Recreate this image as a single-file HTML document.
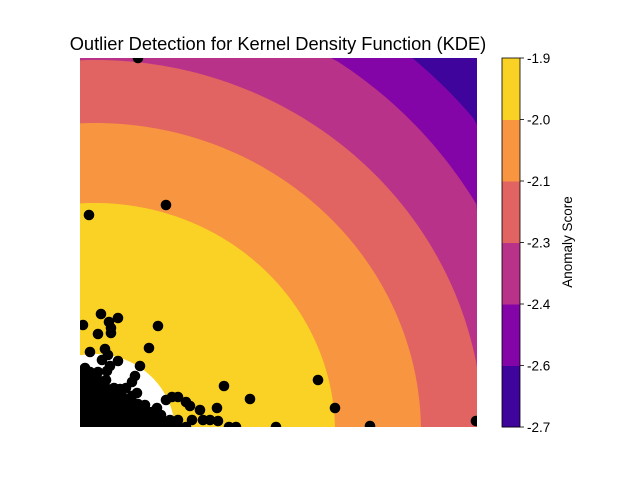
<!DOCTYPE html>
<html><head><meta charset="utf-8"><style>
html,body{margin:0;padding:0;background:#fff;width:640px;height:480px;overflow:hidden;font-family:"Liberation Sans","DejaVu Sans",sans-serif;}
svg{display:block;overflow:hidden;}
</style></head><body>
<svg id="chart" width="640" height="480" viewBox="0 0 640 480" xmlns="http://www.w3.org/2000/svg">
<defs><clipPath id="clip"><rect x="80" y="58" width="397" height="369"/></clipPath></defs>
<text x="278" y="50" text-anchor="middle" font-size="18.3" fill="#000">Outlier Detection for Kernel Density Function (KDE)</text>
<g id="contours" clip-path="url(#clip)"></g>
<g id="points" clip-path="url(#clip)"></g>
<g id="cbar"></g>
<text transform="translate(572,242) rotate(-90)" text-anchor="middle" font-size="13.5" fill="#000">Anomaly Score</text>
</svg>
<script>
// Contour bands (outer to inner): boundary radii in data units, colors
const bandLevels = [-2.7, -2.6, -2.4, -2.3, -2.1, -2.0, -1.9];
const bandColors = ["#3e049c", "#8405a7", "#b83289", "#e16462", "#f89540", "#fad225"];
const bandRadiiX = [0, 494, 445, 388, 326, 240, 80];
const bandRadiiY = [0, 488, 442, 372, 309, 229, 78];
const centerData = [15, -5];
// Scatter points (data units: x 0..397, y 0..369)
const ptsX = [58,86,9,3,21,38,29,31,78,18,31,69,10,25,28,38,22,30,60,52,40,5,15,27,14,55,57,52,37,46,65,57,144,170,238,255,290,196,156,149,110,120,123,137,98,92,106,86,98,396,77,68,81,130,138,112,
2,10,18, 2,10,18,26, 2,10,18,26,34, 2,10,18,26,34,42, 2,10,18,26,34,42,50,58, 2,10,18,26,34,42,50,58,66,72, 2,10,18,26,34,42,50,58,66,74,82,90, 2,10,18,26,34,42,50,58,66,74,82,90,98,106,
6,14, 6,14,22, 6,14,22,30, 6,14,22,30,38,46, 6,14,22,30,38,46,54,62, 6,14,22,30,38,46,54,62,70,78, 6,14,22,30,38,46,54,62,70,78,86,94];
const ptsY = [369,222,212,102,113,109,105,99,101,93,94,79,75,78,72,66,67,61,61,45,38,59,52,56,47,51,34,31,27,39,22,14,41,28,47,19,1,0,0,0,21,17,7,19,30,30,25,27,7,6,19,15,12,7,6,7,
55,55,55, 47,47,47,47, 39,39,39,39,39, 31,31,31,31,31,31, 23,23,23,23,23,23,23,23, 15,15,15,15,15,15,15,15,15,15, 7,7,7,7,7,7,7,7,7,7,7,7, 0,0,0,0,0,0,0,0,0,0,0,0,0,0,
51,51, 43,43,43, 35,35,35,35, 27,27,27,27,27,27, 19,19,19,19,19,19,19,19, 11,11,11,11,11,11,11,11,11,11, 3,3,3,3,3,3,3,3,3,3,3,3];
const cbarTicks = ["-2.7","-2.6","-2.4","-2.3","-2.1","-2.0","-1.9"];

const NS = "http://www.w3.org/2000/svg";
const X0 = 80, Y0 = 427, W = 397, H = 369;
function sx(v){ return X0 + v * (W / 397); }
function sy(v){ return Y0 - v * (H / 369); }
function mk(tag, attrs, parent){ const e = document.createElementNS(NS, tag); for (const k in attrs) e.setAttribute(k, attrs[k]); parent.appendChild(e); return e; }
function clampX(x){ return Math.max(X0, Math.min(X0 + W, x)); }
function clampY(y){ return Math.max(Y0 - H, Math.min(Y0, y)); }
function ellipsePath(cx, cy, rx, ry){
  let d = "";
  for (let k = 0; k <= 360; k++) {
    const a = k * Math.PI / 180;
    const x = clampX(cx + rx * Math.cos(a)), y = clampY(cy + ry * Math.sin(a));
    d += (k ? "L" : "M") + x.toFixed(2) + "," + y.toFixed(2);
  }
  return d + "Z";
}

const cg = document.getElementById("contours");
const bg = mk("rect", {x: X0, y: Y0 - H, width: W, height: H, fill: bandColors[0]}, cg);


for (let i = 1; i < bandColors.length; i++) {
  const el = mk("path", {d: ellipsePath(sx(centerData[0]), sy(centerData[1]), bandRadiiX[i], bandRadiiY[i]), fill: bandColors[i]}, cg);
  
  
}
const inner = mk("path", {d: ellipsePath(sx(centerData[0]), sy(centerData[1]), bandRadiiX[6], bandRadiiY[6]), fill: "#ffffff"}, cg);



const pg = document.getElementById("points");
for (let i = 0; i < ptsX.length; i++) {
  const c = mk("circle", {cx: sx(ptsX[i]), cy: sy(ptsY[i]), r: 5.3, fill: "#000"}, pg);
  
  
}

const cb = document.getElementById("cbar");
const cbX = 502, cbW = 18, cbTop = 58, cbBot = 427;
const segH = (cbBot - cbTop) / bandColors.length;
for (let i = 0; i < bandColors.length; i++) {
  const r = mk("rect", {x: cbX, y: cbBot - (i + 1) * segH, width: cbW, height: segH + 0.5, fill: bandColors[i]}, cb);
  
  
}
mk("rect", {x: cbX, y: cbTop, width: cbW, height: cbBot - cbTop, fill: "none", stroke: "#000", "stroke-width": 0.8}, cb);
for (let i = 0; i < cbarTicks.length; i++) {
  const y = cbBot - i * segH;
  mk("line", {x1: cbX + cbW, x2: cbX + cbW + 4, y1: y, y2: y, stroke: "#000", "stroke-width": 0.8}, cb);
  const t = mk("text", {x: cbX + cbW + 7, y: y + 5, "font-size": 13.5, fill: "#000"}, cb);
  t.textContent = cbarTicks[i];
  
  
}
</script>
</body></html>
